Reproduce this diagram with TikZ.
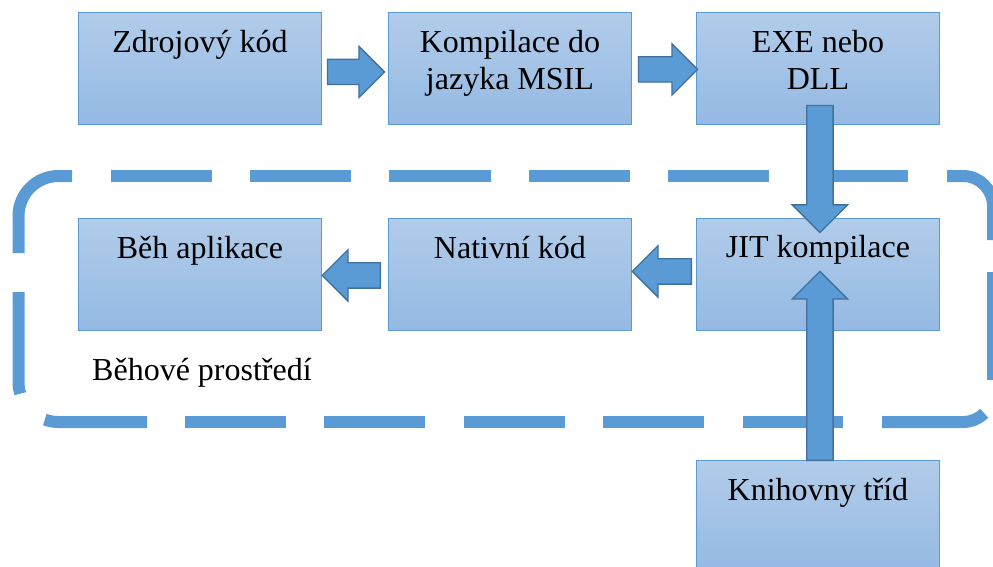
\documentclass[tikz,border=0pt]{standalone}
\usepackage{fontspec}
\setmainfont{Liberation Serif}
\usetikzlibrary{shapes.arrows,calc}
\definecolor{accent}{HTML}{5B9BD5}
\definecolor{accentdark}{HTML}{41719C}
\definecolor{boxtop}{RGB}{178,204,234}
\definecolor{boxbot}{RGB}{148,185,227}
\tikzset{
  box/.style={draw=accent, line width=0.9pt, top color=boxtop, bottom color=boxbot,
    minimum width=243pt, minimum height=112pt, anchor=north west, inner sep=0pt},
  boxtext/.style={anchor=base, font=\fontsize{32}{37}\selectfont, align=center, inner sep=0pt},
  dashseg/.style={draw=accent, line width=12pt, line cap=butt},
  blockarr/.style={single arrow, draw=accentdark, fill=accent, line width=1.3pt,
    text height=0pt, text depth=0pt, inner xsep=0pt, inner ysep=12pt,
    single arrow head extend=13pt, single arrow head indent=0pt, anchor=tail},
  vblockarr/.style={blockarr, inner ysep=12.5pt, single arrow head extend=14.5pt}
}
\begin{document}
\begin{tikzpicture}[x=1pt,y=1pt]
\useasboundingbox (0,0) rectangle (993,-567);
\clip (0,0) rectangle (993,-567);

% dashed runtime frame
\draw[dashseg] (18.5,-253) -- (18.5,-216) arc[start angle=180,end angle=90,radius=40] -- (72,-176);
\foreach \a/\b in {111/212,250/351,389/491,529/630,668/769,807/908}
  \draw[dashseg] (\a,-176) -- (\b,-176);
\draw[dashseg] (947,-176) -- (963,-176) arc[start angle=90,end angle=0,radius=30] -- (993,-240);
\draw[dashseg] (993,-272) -- (993,-380);
\draw[dashseg] (882,-422) -- (963,-422) arc[start angle=270,end angle=315,radius=30];
\foreach \a/\b in {743/843,603/704,464/565,324/425,185/286}
  \draw[dashseg] (\a,-422) -- (\b,-422);
\draw[dashseg] (147,-422) -- (58.5,-422) arc[start angle=270,end angle=250,radius=40];
\draw[dashseg] ([shift={(58.5,-382)}]197:40) arc[start angle=197,end angle=180,radius=40] -- (18.5,-292);

% boxes
\node[box] (zdroj) at (78,-12) {};
\node[box] (komp) at (388,-12) {};
\node[box] (exe) at (696,-12) {};
\node[box] (beh) at (78,-218) {};
\node[box] (nativ) at (388,-218) {};
\node[box] (jit) at (696,-218) {};
\node[box] (knih) at (696,-460) {};

\node[boxtext] (tzdroj) at ($(zdroj.north)+(0,-41)$) {Zdrojový kód};
\node[boxtext] (tkomp) at ($(komp.north)+(0,-78)$) {Kompilace do\\jazyka MSIL};
\node[boxtext] (texe) at ($(exe.north)+(0,-78)$) {EXE nebo\\DLL};
\node[boxtext] (tbeh) at ($(beh.north)+(0,-40)$) {Běh aplikace};
\node[boxtext] (tnativ) at ($(nativ.north)+(0,-40)$) {Nativní kód};
\node[boxtext] (tjit) at ($(jit.north)+(0,-39)$) {JIT kompilace};
\node[boxtext] (tknih) at ($(knih.north)+(0,-40)$) {Knihovny tříd};

\node[boxtext, anchor=base west] (runtime) at (92,-380) {Běhové prostředí};

% block arrows
\node[blockarr, minimum height=57pt] (a1) at ($(zdroj.east)+(5,-3.5)$) {};
\node[blockarr, minimum height=59pt] (a2) at ($(komp.east)+(6,-1)$) {};
\node[vblockarr, minimum height=127pt, rotate=270] (a3) at ($(exe.south)+(2,20)$) {};
\node[blockarr, minimum height=59pt, rotate=180] (a4) at ($(jit.west)+(-4,3)$) {};
\node[blockarr, minimum height=58pt, rotate=180] (a5) at ($(nativ.west)+(-7,-1)$) {};
\node[vblockarr, minimum height=189pt, rotate=90] (a6) at ($(knih.north)+(2,-1)$) {};
\end{tikzpicture}
\end{document}
